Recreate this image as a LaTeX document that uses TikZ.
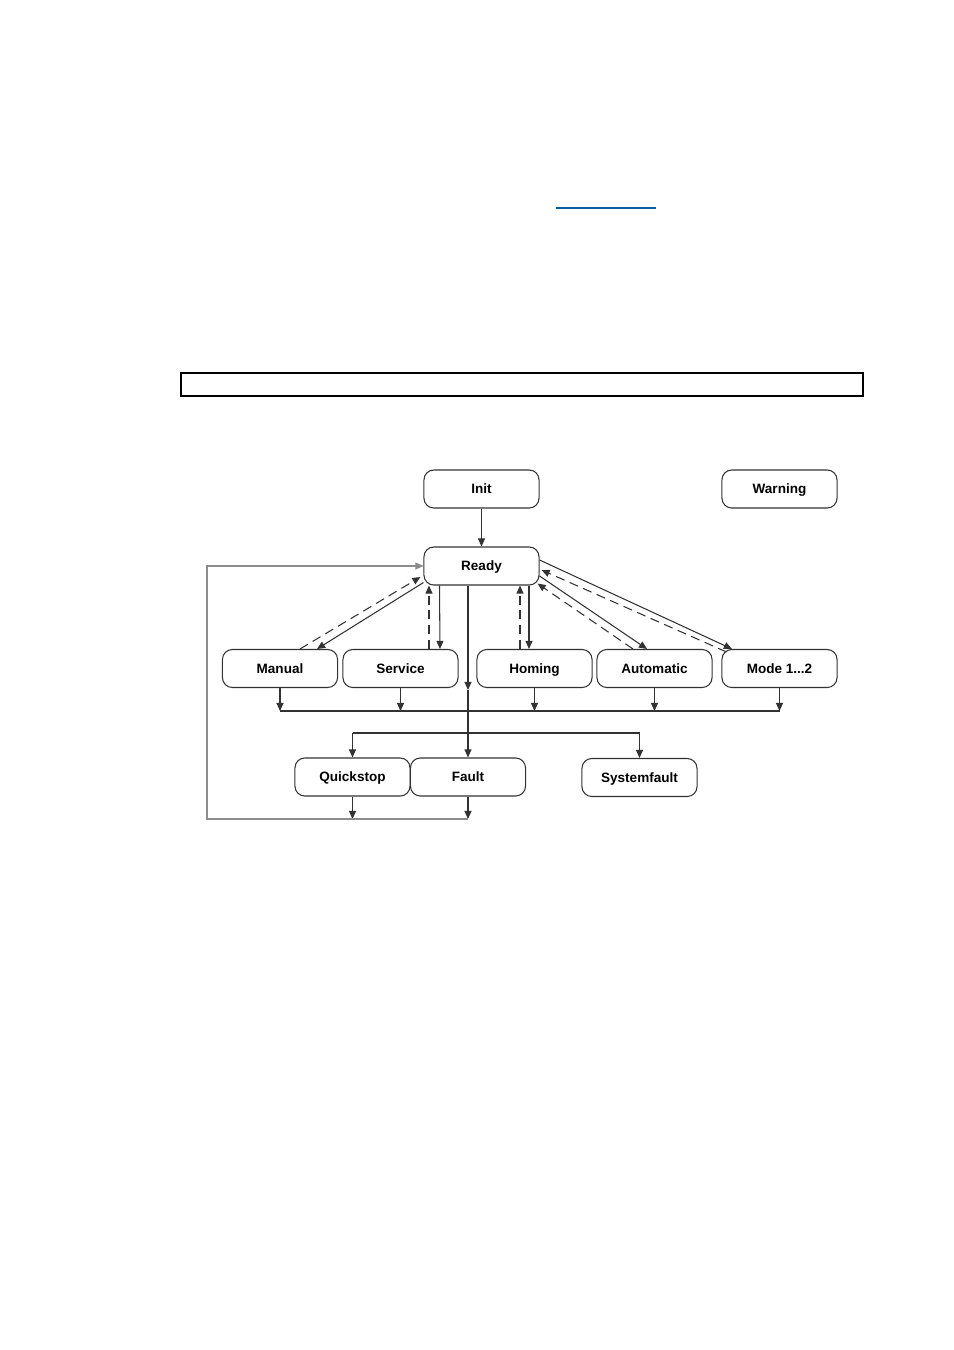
\documentclass[tikz,border=0pt]{standalone}
\usepackage{fontspec}
\setmainfont{Liberation Sans}
\usetikzlibrary{arrows.meta,calc}
\definecolor{lien}{RGB}{5,90,165}
\definecolor{trait}{RGB}{50,50,50}
\definecolor{retour}{RGB}{140,140,140}

\begin{document}
\begin{tikzpicture}[x=0.01cm,y=-0.01cm,
    etat/.style={draw=trait,line width=0.3pt,rounded corners=2.8pt,
      minimum width=1.15cm,minimum height=0.38cm,inner sep=0pt,
      text height=2.8pt,text depth=0pt,
      font=\fontsize{3.85pt}{4.6pt}\selectfont\bfseries},
    fl/.style={trait,line width=0.3pt,-{Triangle[length=2.3pt,width=2pt]}},
    tir/.style={fl,dash pattern=on 2.6pt off 1.6pt}]
    \useasboundingbox (0,0) rectangle (954,1350);
    % lien et cadre du texte
    \draw[lien,line width=0.45pt] (556,208) -- (656,208);
    \draw[line width=0.4pt] (181,373) rectangle (863,396);
    % etats
    \node[etat] (init) at (481.5,489) {Init};
    \node[etat] (warning) at (779.5,489) {Warning};
    \node[etat] (ready) at (481.5,566) {Ready};
    \node[etat] (manual) at (280,668.5) {Manual};
    \node[etat] (service) at (400.5,668.5) {Service};
    \node[etat] (homing) at (534.5,668.5) {Homing};
    \node[etat] (auto) at (654.5,668.5) {Automatic};
    \node[etat] (mode) at (779.5,668.5) {Mode 1...2};
    \node[etat] (quick) at (352.5,777) {Quickstop};
    \node[etat] (fault) at (468,777) {Fault};
    \node[etat] (sysfault) at (639.5,777.5) {Systemfault};
    \coordinate (mid) at (468,690);
    \coordinate (coll) at (468,711);
    \coordinate (dist) at (468,733);
    \coordinate (back) at (207,819);
    % transitions
    \draw[fl] (init) -- (ready);
    \draw[fl] ($(ready.south west)+(0,-3)$) -- ($(manual.north)+(37,0)$);
    \draw[tir] ($(manual.north)+(20,0)$) -- ($(ready.west)+(-3,11)$);
    \draw[fl] ($(ready.south)+(-42,0)$) -- ($(service.north)+(39.5,0)$);
    \draw[tir] ($(service.north)+(28.5,0)$) -- ($(ready.south)+(-52.5,0)$);
    \draw[fl] ($(ready.south)+(47.5,0)$) -- ($(homing.north)+(-5.5,0)$);
    \draw[tir] ($(homing.north)+(-14.5,0)$) -- ($(ready.south)+(38.5,0)$);
    \draw[fl] ($(ready.east)+(0,10)$) -- ($(auto.north)+(-7.5,0)$);
    \draw[tir] ($(auto.north)+(-21.5,0)$) -- ($(ready.south east)+(-2,-2)$);
    \draw[fl] ($(ready.east)+(0,-6)$) -- ($(mode.north)+(-47.5,0)$);
    \draw[tir] ($(mode.north)+(-53,3)$) -- ($(ready.east)+(2,4)$);
    % vers les defauts
    \draw[fl] ($(ready.south)+(-13.5,0)$) -- (mid);
    \draw[fl] (mid) -- (fault.north);
    \foreach \n in {manual,service,homing,auto,mode}
      \draw[fl] (\n.south) -- (\n.south |- coll);
    \draw[trait,line width=0.3pt] (manual.south |- coll) -- (mode.south |- coll);
    \draw[trait,line width=0.3pt] (quick.north |- dist) -- (sysfault.north |- dist);
    \draw[fl] (quick.north |- dist) -- (quick.north);
    \draw[fl] (sysfault.north |- dist) -- (sysfault.north);
    % retour
    \draw[fl] (quick.south) -- (quick.south |- back);
    \draw[fl] (fault.south) -- (fault.south |- back);
    \draw[fl,retour] (fault.south |- back) -- (back) |- (ready.west);
  \end{tikzpicture}
\end{document}
